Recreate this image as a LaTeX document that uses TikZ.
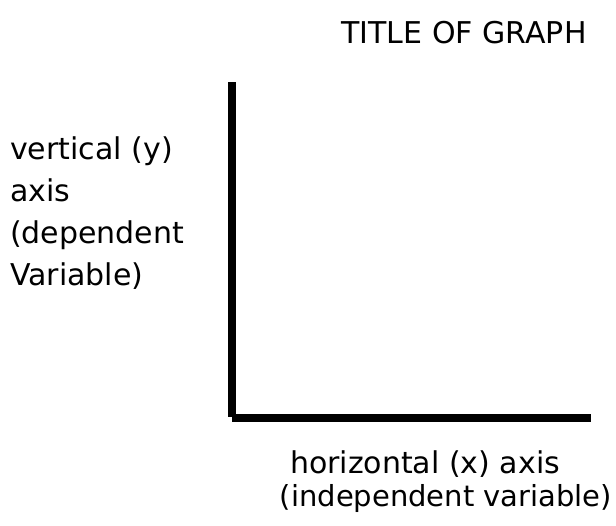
\documentclass[tikz,border=0pt]{standalone}
\usepackage{fontspec}
\setmainfont{DejaVu Sans}
\begin{document}
\begin{tikzpicture}[x=1pt,y=-1pt,
  axisline/.style={line width=8pt},
  lbl/.style={inner sep=0pt,font=\fontsize{30}{42}\selectfont}]
\useasboundingbox (0,0) rectangle (616,525);
\coordinate (ytop) at (231.5,82);
\coordinate (ybot) at (231.5,417);
\coordinate (xl) at (232,418);
\coordinate (xr) at (591,418);
\draw[axisline] (ytop) -- (ybot);
\draw[axisline] (xl) -- (xr);
\node[lbl,anchor=base] (title) at (464,43) {TITLE OF GRAPH};
\node[lbl,anchor=base west,align=left] (ylab) at (10,285) {vertical (y)\\axis\\(dependent\\Variable)};
\node[lbl,anchor=base] (xlab1) at (425,473) {horizontal (x) axis};
\node[lbl,anchor=base] (xlab2) at (446,506) {\fontsize{29}{42}\selectfont(independent variable)};
\end{tikzpicture}
\end{document}
